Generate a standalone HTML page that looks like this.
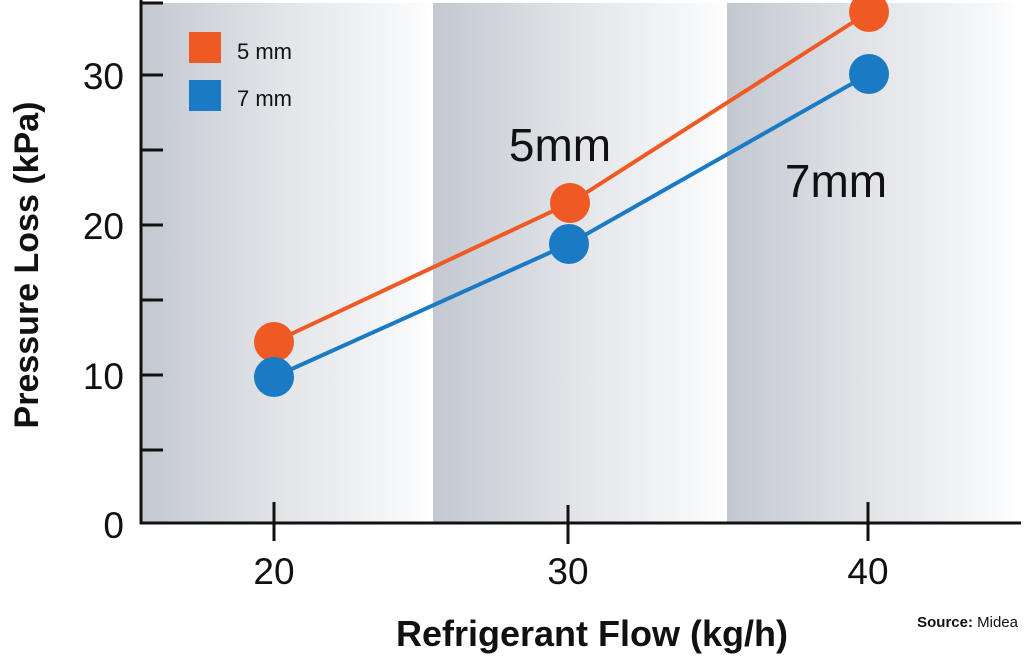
<!DOCTYPE html>
<html><head><meta charset="utf-8"><style>
html,body{margin:0;padding:0;background:#fff;}
svg{display:block;font-family:"Liberation Sans",sans-serif;}
</style></head><body>
<svg width="1024" height="660" viewBox="0 0 1024 660" xmlns="http://www.w3.org/2000/svg">
<defs>
<linearGradient id="g" x1="0" x2="1" y1="0" y2="0">
<stop offset="0" stop-color="#c3c8d0"/>
<stop offset="0.5" stop-color="#e3e5e9"/>
<stop offset="0.9" stop-color="#f7f8fa"/>
<stop offset="1" stop-color="#ffffff"/>
</linearGradient>
</defs>
<rect x="141" y="3" width="292" height="520" fill="url(#g)"/>
<rect x="433" y="3" width="294" height="520" fill="url(#g)"/>
<rect x="727" y="3" width="294" height="520" fill="url(#g)"/>
<g stroke="#111" stroke-width="3">
<line x1="141" y1="0" x2="141" y2="524"/>
<line x1="140" y1="523" x2="1021" y2="523"/>
<line x1="141" y1="3" x2="163" y2="3"/>
<line x1="141" y1="75" x2="163" y2="75"/>
<line x1="141" y1="150" x2="163" y2="150"/>
<line x1="141" y1="225" x2="163" y2="225"/>
<line x1="141" y1="300" x2="163" y2="300"/>
<line x1="141" y1="375" x2="163" y2="375"/>
<line x1="141" y1="450" x2="163" y2="450"/>
<line x1="274" y1="502" x2="274" y2="541"/>
<line x1="568" y1="505" x2="568" y2="544"/>
<line x1="868" y1="502" x2="868" y2="541"/>
</g>
<g font-size="37" fill="#111" text-anchor="end">
<text x="124" y="89">30</text>
<text x="124" y="239">20</text>
<text x="124" y="389">10</text>
<text x="124" y="538">0</text>
</g>
<g font-size="37" fill="#111" text-anchor="middle">
<text x="274" y="584">20</text>
<text x="568" y="584">30</text>
<text x="868" y="584">40</text>
</g>
<text x="592" y="646" font-size="36" font-weight="bold" fill="#111" text-anchor="middle">Refrigerant Flow (kg/h)</text>
<text x="1018" y="627" font-size="15" fill="#111" text-anchor="end"><tspan font-weight="bold">Source:</tspan> Midea</text>
<text transform="translate(38,265) rotate(-90)" font-size="34" font-weight="bold" fill="#111" text-anchor="middle">Pressure Loss (kPa)</text>
<rect x="189" y="32" width="32" height="31" fill="#ef5a24"/>
<rect x="189" y="80" width="32" height="31" fill="#1a7ac4"/>
<text x="237" y="59" font-size="22" fill="#111">5 mm</text>
<text x="237" y="106" font-size="22" fill="#111">7 mm</text>
<text x="560" y="161" font-size="46" fill="#111" text-anchor="middle">5mm</text>
<text x="836" y="197" font-size="46" fill="#111" text-anchor="middle">7mm</text>
<polyline points="274,342 570,203 869,12" fill="none" stroke="#ef5a24" stroke-width="4"/>
<polyline points="274,377 569,244 869,74" fill="none" stroke="#1a7ac4" stroke-width="4"/>
<g fill="#ef5a24"><circle cx="274" cy="342" r="20"/><circle cx="570" cy="203" r="20"/><circle cx="869" cy="12" r="20"/></g>
<g fill="#1a7ac4"><circle cx="274" cy="377" r="20"/><circle cx="569" cy="244" r="20"/><circle cx="869" cy="74" r="20"/></g>
</svg>
</body></html>
